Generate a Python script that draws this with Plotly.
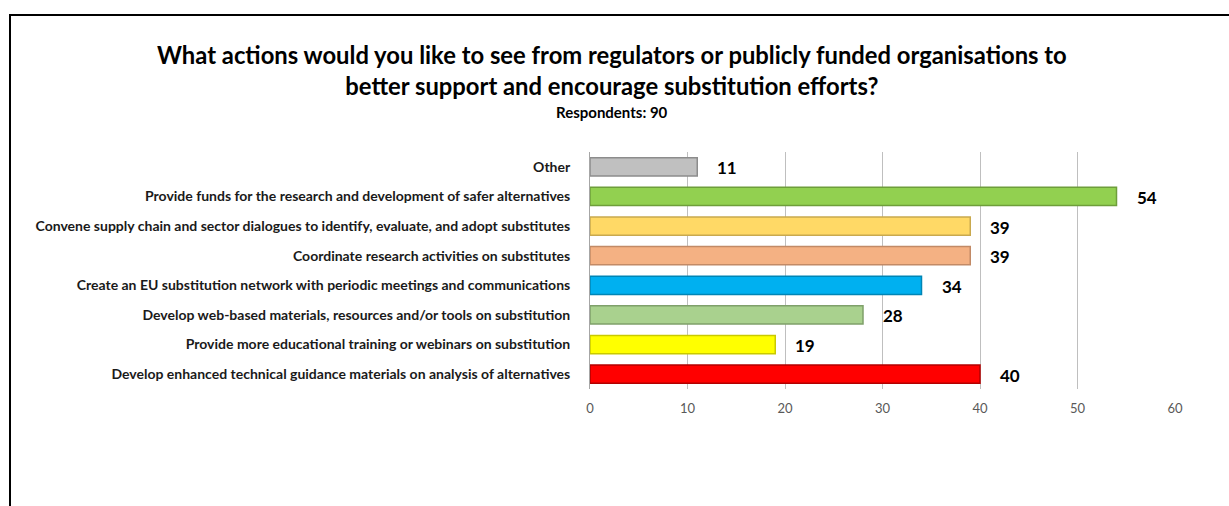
import plotly.graph_objects as go

# Survey answers, listed top to bottom as drawn
categories = [
    "Other",
    "Provide funds for the research and development of safer alternatives",
    "Convene supply chain and sector dialogues to identify, evaluate, and adopt substitutes",
    "Coordinate research activities on substitutes",
    "Create an EU substitution network with periodic meetings and communications",
    "Develop web-based materials, resources and/or tools on substitution",
    "Provide more educational training or webinars on substitution",
    "Develop enhanced technical guidance materials on analysis of alternatives",
]
counts = [11, 54, 39, 39, 34, 28, 19, 40]
bar_colors = ["#C0C0C0", "#92D050", "#FFD966", "#F4B183",
              "#00B0F0", "#A9D18E", "#FFFF00", "#FF0000"]
edge_colors = ["#8C8C8C", "#6E9E3A", "#C9A94E", "#C28A66",
               "#0085B5", "#7FA06A", "#C9C900", "#B30000"]
x_ticks = [0, 10, 20, 30, 40, 50, 60]

W, H = 1229, 506
ML, MR, MT, MB = 590, 54, 152, 117
FONT = "Lato, Open Sans, sans-serif"

fig = go.Figure(go.Bar(
    x=counts,
    y=categories,
    orientation="h",
    marker=dict(color=bar_colors, line=dict(color=edge_colors, width=1.5)),
    width=0.62,
    hoverinfo="x+y",
))

# Value labels next to each bar
for cat, val in zip(categories, counts):
    fig.add_annotation(
        x=val, y=cat, text=f"<b>{val}</b>", showarrow=False,
        xanchor="left", xshift=18, yshift=-1,
        font=dict(family=FONT, size=17, color="#000000"),
    )

# Helpers to place page-level items in paper coordinates
def px_to_paper_x(px):
    return (px - ML) / (W - ML - MR)

def px_to_paper_y(py):
    return 1 - (py - MT) / (H - MT - MB)

# Chart frame (left and top edges visible within the page)
fig.add_shape(
    type="rect", xref="paper", yref="paper",
    x0=px_to_paper_x(10), x1=px_to_paper_x(1240),
    y0=px_to_paper_y(520), y1=px_to_paper_y(15),
    line=dict(color="#000000", width=2), fillcolor="rgba(0,0,0,0)",
    layer="below",
)

# Title and subtitle
fig.add_annotation(
    text=("<b>What actions would you like to see from regulators or publicly funded organisations to"
          "<br>better support and encourage substitution efforts?</b>"),
    xref="paper", yref="paper",
    x=px_to_paper_x(612), y=px_to_paper_y(71), showarrow=False,
    xanchor="center", yanchor="middle", align="center",
    font=dict(family=FONT, size=23.8, color="#000000"),
)
fig.add_annotation(
    text="<b>Respondents: 90</b>", xref="paper", yref="paper",
    x=px_to_paper_x(612), y=px_to_paper_y(112), showarrow=False,
    xanchor="center", yanchor="middle",
    font=dict(family=FONT, size=15, color="#000000"),
)

fig.update_layout(
    width=W, height=H,
    margin=dict(l=ML, r=MR, t=MT, b=MB),
    paper_bgcolor="#FFFFFF",
    plot_bgcolor="#FFFFFF",
    showlegend=False,
    xaxis=dict(
        range=[0, 60], tickvals=x_ticks,
        showgrid=True, gridcolor="#BFBFBF", gridwidth=1,
        zeroline=False, showline=False, ticks="",
        tickfont=dict(family=FONT, size=13, color="#595959"),
        ticklabelstandoff=10,
    ),
    yaxis=dict(
        autorange="reversed",
        showline=True, linecolor="#A6A6A6", linewidth=1,
        showgrid=False, ticks="",
        tickprefix="<b>", ticksuffix="</b>",
        tickfont=dict(family=FONT, size=14, color="#1A1A1A"),
        ticklabelstandoff=16,
    ),
)

fig.write_html("out.html")
